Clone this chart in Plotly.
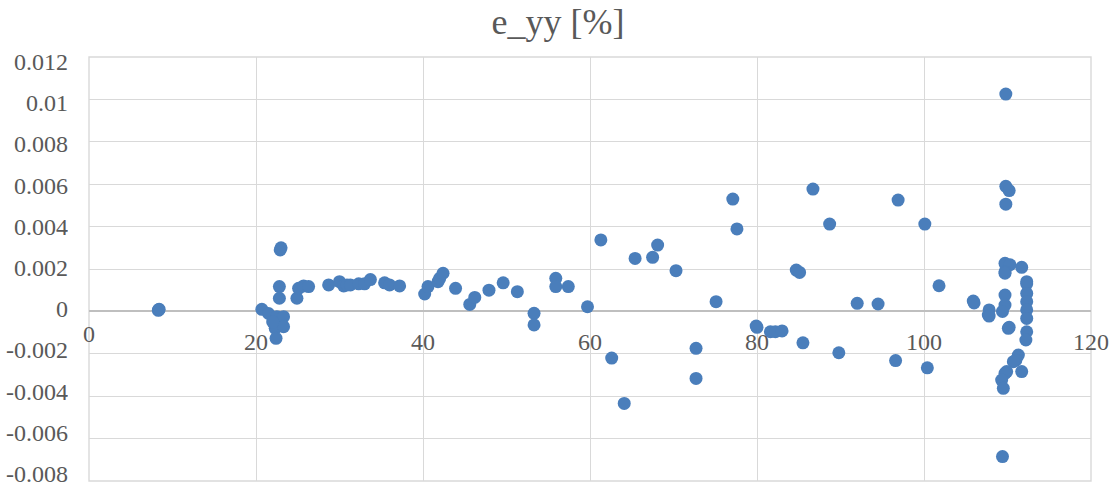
import plotly.graph_objects as go

x_vals = [8.3, 8.4, 8.35,
          20.7, 21.5, 22.5, 23.3, 22.3, 23.3, 22.4, 22.0, 22.8, 22.8, 22.9, 23.0,
          24.9, 25.1, 25.7, 26.3, 28.7, 30.0, 30.5, 30.9, 31.3, 32.3, 33.0, 33.7,
          35.4, 36.0, 37.2, 40.2, 40.6, 41.8, 42.0, 42.4, 43.9, 45.6, 46.2, 47.9,
          49.6, 51.3, 53.3, 53.3, 55.9, 55.9, 57.4, 59.7, 61.3, 62.6, 64.1, 65.4,
          67.5, 68.1, 70.3, 72.7, 72.7, 75.1, 77.1, 77.6, 79.9, 80.0, 81.6, 82.2,
          83.0, 85.5, 84.7, 85.1, 86.7, 88.7, 89.8, 92.0, 94.5, 96.6, 96.9, 100.1,
          100.4, 101.8, 105.9, 106.0, 107.7, 107.8, 107.8,
          109.8, 109.8, 110.2, 109.8, 109.7, 110.3, 109.7, 111.7, 109.7,
          109.7, 109.7, 109.4, 110.1, 110.2,
          112.3, 112.3, 112.3, 112.3, 112.3, 112.3, 112.3, 112.2,
          111.3, 111.0, 110.7, 111.7, 109.9, 109.7, 109.3, 109.5, 109.4]

y_vals = [0.00005, 0.0001, 0.00008,
          0.0001, -0.0001, -0.00025, -0.00025, -0.0008, -0.00072, -0.00127, -0.0005, 0.00117, 0.00062, 0.0029, 0.003,
          0.00062, 0.00109, 0.0012, 0.00117, 0.00125, 0.0014, 0.0012, 0.00125, 0.00125, 0.0013, 0.0013, 0.0015,
          0.00135, 0.00125, 0.0012, 0.00082, 0.00117, 0.0014, 0.00156, 0.0018, 0.00109, 0.00033, 0.00066, 0.001,
          0.00135, 0.00093, -0.00009, -0.00064, 0.00156, 0.00117, 0.00117, 0.00022, 0.00337, -0.0022, -0.00434, 0.0025,
          0.00255, 0.00313, 0.00192, -0.00174, -0.00316, 0.00046, 0.0053, 0.00389, -0.00069, -0.00075, -0.00096, -0.00096,
          -0.00092, -0.00148, 0.00195, 0.00184, 0.00577, 0.00412, -0.00195, 0.00038, 0.00035, -0.00232, 0.00525, 0.00412,
          -0.00266, 0.00121, 0.00049, 0.0004, -0.00017, 0.00007, -0.00022,
          0.01025, 0.0059, 0.0057, 0.00506, 0.00227, 0.0022, 0.00187, 0.00208, 0.0018,
          0.00077, 0.0003, 0.0, -0.0008, -0.00075,
          0.0014, 0.0013, 0.00085, 0.00046, 0.00007, -0.00033, -0.00096, -0.00135,
          -0.00206, -0.0023, -0.00237, -0.00284, -0.00284, -0.00292, -0.00324, -0.00363, -0.00685]

y_ticks = [0.012, 0.01, 0.008, 0.006, 0.004, 0.002, 0, -0.002, -0.004, -0.006, -0.008]
y_tick_text = ["0.012", "0.01", "0.008", "0.006", "0.004", "0.002", "0",
               "-0.002", "-0.004", "-0.006", "-0.008"]
x_ticks = [0, 20, 40, 60, 80, 100, 120]
x_tick_text = ["0", "20", "40", "60", "80", "100", "120"]

FONT = "Liberation Serif"
GREY = "#595959"
GRID = "#d9d9d9"
Y_MIN, Y_MAX = -0.008, 0.012

fig = go.Figure()
fig.add_trace(go.Scatter(
    x=x_vals, y=y_vals, mode="markers",
    marker=dict(size=13, color="#4a7ebb", line=dict(width=0)),
    showlegend=False, hoverinfo="x+y",
))

annotations = []
for v, t in zip(x_ticks, x_tick_text):
    annotations.append(dict(
        x=v, y=0, xref="x", yref="y", text=t, showarrow=False,
        yshift=-23 if v == 0 else -31, yanchor="middle", xanchor="center",
        font=dict(family=FONT, size=24, color=GREY),
    ))
# y tick labels as annotations (Excel spaces them slightly tighter than the grid)
for v, t in zip(y_ticks, y_tick_text):
    frac = (v - Y_MIN) / (Y_MAX - Y_MIN)
    annotations.append(dict(
        x=0, y=v, xref="paper", yref="y", text=t, showarrow=False,
        xanchor="right", yanchor="middle", xshift=-19, height=20, valign="middle",
        yshift=7 - 12 * frac,
        font=dict(family=FONT, size=24, color=GREY),
    ))

fig.update_layout(
    width=1116, height=486,
    margin=dict(l=89, r=25, t=57, b=5),
    paper_bgcolor="white", plot_bgcolor="white",
    font=dict(family=FONT, color=GREY),
    title=dict(text="e_yy [%]", x=0.5, xanchor="center", y=0.955, yanchor="middle",
               font=dict(family=FONT, size=36, color=GREY)),
    xaxis=dict(range=[0, 120], tickvals=x_ticks, showticklabels=False,
               showgrid=True, gridcolor=GRID, gridwidth=1.4,
               zeroline=False, showline=False, fixedrange=True),
    yaxis=dict(range=[Y_MIN, Y_MAX], tickvals=y_ticks, showticklabels=False,
               showgrid=True, gridcolor=GRID, gridwidth=1.4,
               zeroline=True, zerolinecolor="#bfbfbf", zerolinewidth=1.6,
               showline=False, ticks="", fixedrange=True),
    shapes=[dict(type="rect", xref="paper", yref="paper", x0=0, x1=1, y0=0, y1=1,
                 line=dict(color=GRID, width=1.4), fillcolor="rgba(0,0,0,0)",
                 layer="below")],
    annotations=annotations,
)

fig.write_html("out.html")
